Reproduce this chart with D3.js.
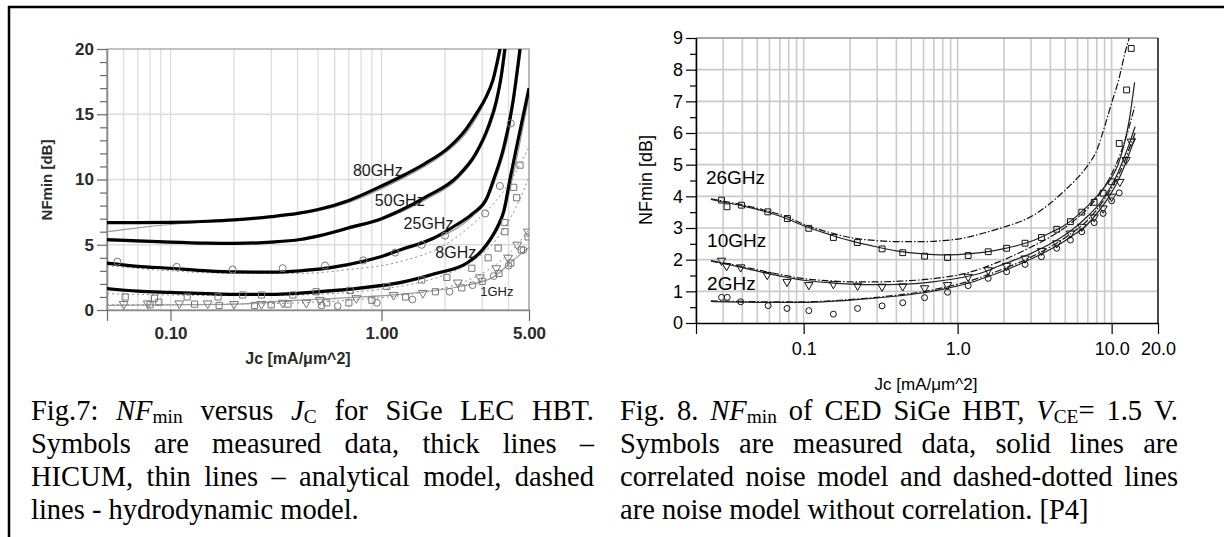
<!DOCTYPE html>
<html>
<head>
<meta charset="utf-8">
<script src="https://cdn.jsdelivr.net/npm/d3@7"></script>
<style>
body { margin: 0; background: #fff; }
svg { display: block; }
</style>
</head>
<body>
<div id="fig"></div>
<script>
// Fig.7 - NFmin vs Jc, SiGe LEC HBT (left panel)
///
const xTicks7 = [0.1, 1, 5];
const xTickLabels7 = ["0.10", "1.00", "5.00"];
const yTicks7 = [0, 5, 10, 15, 20];

// thick lines - HICUM
const hicum80 = [[0.05,6.7],[0.07,6.7],[0.1,6.72],[0.15,6.8],[0.2,6.9],[0.3,7.15],[0.4,7.4],[0.5,7.7],[0.7,8.4],[1.0,9.5],[1.3,10.4],[1.6,11.2],[2.1,12.5],[2.5,13.8],[2.83,15.1],[3.1,16.2],[3.37,17.6],[3.64,20]];
const hicum50 = [[0.05,5.4],[0.07,5.3],[0.1,5.2],[0.15,5.12],[0.2,5.1],[0.3,5.2],[0.41,5.4],[0.51,5.7],[0.7,6.3],[1.0,7.0],[1.22,7.6],[1.64,8.7],[2.28,10.2],[2.8,12],[3.2,14],[3.5,16],[3.7,18],[3.84,20]];
const hicum25 = [[0.05,3.6],[0.07,3.35],[0.1,3.2],[0.15,3.0],[0.2,2.92],[0.3,2.9],[0.41,3.0],[0.6,3.3],[0.8,3.7],[1.0,4.1],[1.22,4.6],[1.76,5.5],[2.2,6.4],[2.71,7.4],[3.16,8.6],[3.4,10],[3.8,12.5],[4.2,16],[4.53,20]];
const hicum8 = [[0.05,1.65],[0.07,1.45],[0.1,1.35],[0.15,1.25],[0.2,1.2],[0.3,1.2],[0.41,1.3],[0.6,1.5],[0.8,1.7],[1.22,2.1],[1.8,2.8],[2.54,3.6],[3.0,4.6],[3.27,5.4],[3.6,6.6],[3.8,7.6],[4.06,10],[4.5,13.5],[5.0,17]];

// thin lines - analytical model
const ana80 = [[0.05,6.0],[0.07,6.3],[0.1,6.55],[0.15,6.75],[0.2,6.88],[0.3,7.12],[0.4,7.35],[0.5,7.6],[0.7,8.25],[1.0,9.3],[1.3,10.2],[1.6,11.0],[2.1,12.3],[2.5,13.5],[2.83,14.8],[3.1,16.0],[3.37,17.4],[3.7,20]];
const ana50 = [[0.05,5.3],[0.1,5.15],[0.2,5.05],[0.41,5.35],[0.7,6.2],[1.0,6.9],[1.64,8.5],[2.28,10.0],[2.8,11.8],[3.2,13.7],[3.5,15.6],[3.9,20]];
const ana25 = [[0.05,3.5],[0.1,3.15],[0.2,2.9],[0.41,2.95],[0.8,3.6],[1.22,4.5],[1.76,5.4],[2.71,7.2],[3.16,8.4],[3.5,10.2],[4.0,13.5],[4.6,20]];
const ana8 = [[0.05,1.5],[0.1,1.3],[0.2,1.15],[0.41,1.25],[0.8,1.6],[1.22,2.0],[1.8,2.7],[2.54,3.5],[3.27,5.2],[3.8,7.3],[4.2,10.3],[5.0,16.4]];
const ana1 = [[0.05,0.35],[0.1,0.4],[0.2,0.45],[0.41,0.75],[0.7,0.95],[1.22,1.2],[2.35,1.8],[3.37,2.5],[4.2,3.8],[5.0,4.8]];

// dashed lines - hydrodynamic model
const hydro25 = [[0.05,3.4],[0.1,3.0],[0.2,2.8],[0.41,2.8],[0.7,3.1],[1.22,3.7],[2.0,5.0],[2.93,7.1],[3.5,8.4],[4.2,10.2],[5.0,12.5]];
const hydro8 = [[0.05,1.25],[0.1,1.15],[0.2,1.1],[0.4,1.15],[0.7,1.35],[1.0,1.6],[1.5,2.1],[2.0,2.7],[2.5,3.4],[3.0,4.3],[3.5,5.4],[4.0,6.8],[4.5,8.4],[5.0,10.2]];
const hydro1 = [[0.05,0.4],[0.1,0.42],[0.2,0.45],[0.4,0.55],[0.7,0.75],[1.0,0.95],[1.5,1.3],[2.0,1.7],[2.5,2.2],[3.0,2.8],[3.5,3.5],[4.0,4.3],[4.5,5.2],[5.0,6.2]];

// measured data
const circ25 = [[0.056,3.7],[0.107,3.3],[0.197,3.1],[0.34,3.2],[0.54,3.4],[0.82,3.8],[1.16,4.4],[1.55,5.0],[2.0,5.7],[3.1,7.4],[3.64,9.5],[4.1,14.3]];
const sq8 = [[0.061,1.0],[0.084,0.9],[0.12,1.0],[0.168,1.0],[0.22,1.15],[0.27,1.15],[0.38,1.15],[0.49,1.4],[0.71,1.5],[1.06,1.8],[1.55,2.3],[2.04,2.5],[2.68,3.2],[3.2,4.0],[3.57,4.75],[3.84,6.0],[3.84,6.7],[4.23,9.4],[4.37,8.6],[4.53,11.1]];
const tri1 = [[0.06,0.45],[0.078,0.5],[0.11,0.5],[0.15,0.5],[0.2,0.45],[0.27,0.45],[0.34,0.55],[0.44,0.55],[0.51,0.77],[0.76,0.9],[1.14,1.15],[1.57,1.3],[2.3,2.1],[2.93,2.5],[3.5,3.2],[3.98,4.0],[4.4,5.0],[4.94,6.0]];
const sq1 = [[0.08,0.4],[0.088,0.6],[0.13,0.45],[0.17,0.35],[0.25,0.35],[0.3,0.4],[0.36,0.45],[0.55,0.55],[0.7,0.55],[0.9,0.75],[1.3,1.0],[1.8,1.4],[2.4,1.7],[3.0,2.2],[3.6,2.8],[4.1,3.6],[4.6,4.6],[4.95,5.6]];
const circ1 = [[0.52,0.35],[0.62,0.3],[0.95,0.55],[1.4,0.8],[2.1,1.4],[2.7,1.9],[3.4,2.6],[4.0,3.4],[4.7,4.6]];

const labels7 = ["80GHz", "50GHz", "25GHz", "8GHz", "1GHz"];
const labelAt7 = [[0.96,10.7], [1.22,8.4], [1.67,6.6], [2.25,4.4], [3.52,1.4]];

// Fig.8 - NFmin of CED SiGe HBT (right panel)
///
const xTicks8 = [0.1, 1, 10, 20];
const xTickLabels8 = ["0.1", "1.0", "10.0", "20.0"];
const yTicks8 = [0, 1, 2, 3, 4, 5, 6, 7, 8, 9];

// solid - correlated noise model
const sol26 = [[0.025,3.9],[0.03,3.82],[0.04,3.7],[0.06,3.48],[0.08,3.27],[0.1,3.07],[0.15,2.78],[0.2,2.6],[0.3,2.4],[0.4,2.28],[0.6,2.18],[0.8,2.15],[1.0,2.16],[1.5,2.24],[2.0,2.35],[3.0,2.58],[4.0,2.85],[5.0,3.1],[6.0,3.4],[7.0,3.7],[8.0,4.0],[9.0,4.3],[10,4.6],[11,5.0],[12,5.6],[13,6.4],[14.1,7.6]];
const sol10 = [[0.025,1.95],[0.03,1.88],[0.04,1.75],[0.06,1.55],[0.08,1.43],[0.1,1.35],[0.15,1.27],[0.2,1.23],[0.3,1.21],[0.42,1.22],[0.69,1.3],[1.13,1.46],[1.5,1.62],[1.85,1.8],[3.0,2.2],[4.0,2.5],[4.97,2.78],[6.0,3.08],[7.0,3.38],[8.2,3.72],[9.0,4.0],[10,4.35],[11,4.75],[12,5.2],[13,5.65],[14.2,6.2]];
const sol2 = [[0.025,0.68],[0.04,0.66],[0.06,0.65],[0.1,0.65],[0.15,0.68],[0.2,0.72],[0.3,0.79],[0.42,0.86],[0.65,0.98],[0.86,1.1],[1.2,1.27],[1.6,1.48],[2.0,1.65],[2.76,1.94],[3.5,2.18],[4.5,2.46],[5.5,2.74],[6.7,3.04],[8.0,3.45],[9.3,3.88],[10.5,4.3],[12,4.9],[13,5.35],[14.2,5.85]];

// dashed-dotted - no correlation
const dd26 = [[0.025,3.92],[0.03,3.85],[0.04,3.73],[0.06,3.52],[0.08,3.33],[0.1,3.12],[0.15,2.85],[0.2,2.7],[0.3,2.6],[0.4,2.57],[0.6,2.57],[0.8,2.6],[1.0,2.65],[1.5,2.85],[2.0,3.03],[3.0,3.36],[4.0,3.78],[5.0,4.2],[6.0,4.58],[7.0,4.98],[8.0,5.45],[9.0,6.2],[10,6.95],[11.1,7.67],[12.2,8.52],[13.0,9.0]];
const dd10 = [[0.025,1.97],[0.03,1.9],[0.04,1.78],[0.06,1.6],[0.08,1.48],[0.1,1.4],[0.15,1.33],[0.2,1.3],[0.3,1.3],[0.42,1.32],[0.69,1.4],[1.13,1.57],[1.85,1.93],[3.0,2.4],[4.0,2.72],[5.0,3.02],[6.0,3.32],[7.0,3.62],[8.0,3.95],[9.0,4.3],[10,4.7],[11,5.15],[12,5.65],[13,6.2],[14.1,6.83]];
const dd2 = [[0.025,0.7],[0.04,0.68],[0.06,0.67],[0.1,0.67],[0.2,0.74],[0.3,0.81],[0.42,0.89],[0.65,1.02],[0.86,1.15],[1.2,1.33],[1.6,1.54],[2.0,1.72],[2.76,2.0],[3.5,2.25],[4.5,2.55],[5.5,2.84],[6.7,3.16],[8.0,3.58],[9.3,4.02],[10.5,4.45],[12,5.05],[13,5.5],[14.2,6.0]];

// measured data
const sq26 = [[0.0293,3.88],[0.0318,3.67],[0.0395,3.72],[0.0585,3.51],[0.0784,3.3],[0.108,2.99],[0.156,2.7],[0.223,2.54],[0.323,2.34],[0.44,2.22],[0.61,2.11],[0.86,2.07],[1.17,2.13],[1.58,2.25],[2.08,2.36],[2.74,2.52],[3.5,2.7],[4.4,2.96],[5.4,3.2],[6.4,3.5],[7.7,3.81],[8.8,4.1],[10.0,4.46],[11.2,5.67],[12.5,7.36],[13.4,8.67]];
const tri10 = [[0.0293,1.97],[0.0316,1.8],[0.039,1.76],[0.058,1.52],[0.078,1.3],[0.108,1.2],[0.156,1.23],[0.224,1.18],[0.323,1.15],[0.44,1.16],[0.61,1.1],[0.86,1.2],[1.17,1.46],[1.58,1.67],[2.08,1.81],[2.74,2.04],[3.5,2.28],[4.4,2.52],[5.4,2.83],[6.4,3.04],[7.7,3.34],[8.8,3.62],[10.0,3.99],[11.3,4.46],[12.4,5.15],[13.4,5.73]];
const circ2 = [[0.0293,0.81],[0.0319,0.81],[0.039,0.67],[0.0588,0.55],[0.078,0.46],[0.108,0.39],[0.156,0.28],[0.224,0.46],[0.323,0.54],[0.44,0.64],[0.61,0.8],[0.86,0.97],[1.17,1.18],[1.58,1.41],[2.08,1.62],[2.74,1.85],[3.5,2.09],[4.4,2.36],[5.4,2.62],[6.4,2.88],[7.7,3.17],[8.8,3.46],[10.0,3.86],[11.2,4.11]];

const labels8 = ["26GHz", "10GHz", "2GHz"];
const labelAt8 = [[0.0232,4.58], [0.0236,2.62], [0.0236,1.26]];

// captions
const caption7 = [
	"Fig.7: <i>NF</i><sub>min</sub> versus <i>J</i><sub>C</sub> for SiGe LEC HBT.",
	"Symbols are measured data, thick lines –",
	"HICUM, thin lines – analytical model, dashed",
	"lines - hydrodynamic model."
];
const caption8 = [
	"Fig. 8. <i>NF</i><sub>min</sub> of CED SiGe HBT, <i>V</i><sub>CE</sub>= 1.5 V.",
	"Symbols are measured data, solid lines are",
	"correlated noise model and dashed-dotted lines",
	"are noise model without correlation. [P4]"
];

const w = 1224, h = 537;
const sans = "Liberation Sans, Arial, sans-serif";
const serif = "Liberation Serif, Times New Roman, serif";

let svg = d3.select("#fig").append("svg")
	.attr("width", w)
	.attr("height", h)
	.attr("viewBox", "0 0 " + w + " " + h);

// page frame (table cell border)
svg.append("line").attr("x1", 9).attr("x2", 9).attr("y1", 6).attr("y2", h)
	.attr("stroke", "#000").attr("stroke-width", 2.5);
svg.append("line").attr("x1", 8).attr("x2", w).attr("y1", 7).attr("y2", 7)
	.attr("stroke", "#000").attr("stroke-width", 2.5);

function symbolPath(type, size) {
	return d3.symbol().type(type).size(size)();
}

function drawPoints(g, data, x, y, type, size, color, flip) {
	g.append("g").selectAll("path")
		.data(data)
		.join("path")
		.attr("d", symbolPath(type, size))
		.attr("transform", function(d) { return "translate(" + x(d[0]) + "," + y(d[1]) + ")" + (flip ? " rotate(180)" : "") })
		.attr("fill", "none")
		.attr("stroke", color)
		.attr("stroke-width", 1);
}

function drawCurve(g, data, x, y, color, width, dash) {
	let line = d3.line().x(function(d) { return x(d[0]) }).y(function(d) { return y(d[1]) }).curve(d3.curveMonotoneX);
	g.append("path")
		.attr("d", line(data))
		.attr("fill", "none")
		.attr("stroke", color)
		.attr("stroke-width", width)
		.attr("stroke-dasharray", dash || null)
		.attr("stroke-linejoin", "round");
}

// ---------- Fig.7 ----------
const x7 = d3.scaleLog().domain([0.05, 5]).range([107, 529]);
const y7 = d3.scaleLinear().domain([0, 20]).range([310, 49]);
let g7 = svg.append("g");

g7.append("clipPath").attr("id", "clip7").append("rect")
	.attr("x", 107).attr("y", 49).attr("width", 422).attr("height", 261);

// grid
g7.append("g").selectAll("line")
	.data(x7.ticks())
	.join("line")
	.attr("x1", function(d) { return x7(d) }).attr("x2", function(d) { return x7(d) })
	.attr("y1", y7(0)).attr("y2", y7(20))
	.attr("stroke", "#dcdcdc").attr("stroke-width", 1.3);
g7.append("g").selectAll("line")
	.data(yTicks7.slice(1, -1))
	.join("line")
	.attr("x1", 107).attr("x2", 529)
	.attr("y1", function(d) { return y7(d) }).attr("y2", function(d) { return y7(d) })
	.attr("stroke", "#dcdcdc").attr("stroke-width", 1.3);

g7.append("rect").attr("x", 107).attr("y", 49).attr("width", 422).attr("height", 261)
	.attr("fill", "none").attr("stroke", "#9a9a9a").attr("stroke-width", 1.2);

// axes
let yMinor7 = d3.range(0, 21).filter(function(d) { return d % 5 });
let ay7m = g7.append("g").attr("transform", "translate(107,0)")
	.call(d3.axisLeft(y7).tickValues(yMinor7).tickSize(7).tickSizeOuter(0).tickFormat(""));
let ay7 = g7.append("g").attr("transform", "translate(107,0)")
	.call(d3.axisLeft(y7).tickValues(yTicks7).tickSize(10).tickSizeOuter(0).tickPadding(3));
let ax7 = g7.append("g").attr("transform", "translate(0,310)")
	.call(d3.axisBottom(x7).tickValues([0.05].concat(xTicks7)).tickSize(11).tickSizeOuter(0).tickPadding(6)
		.tickFormat(function(d) { let i = xTicks7.indexOf(d); return i < 0 ? "" : xTickLabels7[i] }));
[ay7m, ay7, ax7].forEach(function(a) {
	a.select(".domain").attr("stroke", "#8a8a8a").attr("stroke-width", 1.3);
	a.selectAll(".tick line").attr("stroke", "#6a6a6a").attr("stroke-width", 1.2);
	a.selectAll("text").attr("font-family", sans).attr("font-size", 17).attr("font-weight", "bold").attr("fill", "#2a2a2a");
});

let plot7 = g7.append("g").attr("clip-path", "url(#clip7)");

[hydro25, hydro8, hydro1].forEach(function(d) { drawCurve(plot7, d, x7, y7, "#8c8c8c", 1, "2,3") });
[ana80, ana50, ana25, ana8, ana1].forEach(function(d) { drawCurve(plot7, d, x7, y7, "#9a9a9a", 1.2) });
[hicum80, hicum50, hicum25, hicum8].forEach(function(d) { drawCurve(plot7, d, x7, y7, "#000", 3.2) });

drawPoints(plot7, circ25, x7, y7, d3.symbolCircle, 40, "#777");
drawPoints(plot7, circ1, x7, y7, d3.symbolCircle, 36, "#777");
drawPoints(plot7, sq8, x7, y7, d3.symbolSquare, 38, "#777");
drawPoints(plot7, sq1, x7, y7, d3.symbolSquare, 38, "#777");
drawPoints(plot7, tri1, x7, y7, d3.symbolTriangle, 34, "#777", true);

g7.append("g").selectAll("text")
	.data(labels7)
	.join("text")
	.attr("x", function(d, i) { return x7(labelAt7[i][0]) })
	.attr("y", function(d, i) { return y7(labelAt7[i][1]) })
	.attr("text-anchor", "middle").attr("dominant-baseline", "central")
	.attr("font-family", sans).attr("font-size", function(d) { return d == "1GHz" ? 13 : 16 })
	.attr("fill", "#1a1a1a")
	.text(function(d) { return d });

g7.append("text")
	.attr("transform", "translate(52,180) rotate(-90)")
	.attr("text-anchor", "middle")
	.attr("font-family", sans).attr("font-size", 15).attr("font-weight", "bold").attr("fill", "#2a2a2a")
	.text("NFmin [dB]");
g7.append("text")
	.attr("x", 298).attr("y", 364)
	.attr("text-anchor", "middle")
	.attr("font-family", sans).attr("font-size", 16).attr("font-weight", "bold").attr("fill", "#2a2a2a")
	.text("Jc [mA/μm^2]");

// ---------- Fig.8 ----------
const x8 = d3.scaleLog().domain([0.02, 20]).range([696, 1158]);
const y8 = d3.scaleLinear().domain([0, 9]).range([323, 38]);
let g8 = svg.append("g");

g8.append("clipPath").attr("id", "clip8").append("rect")
	.attr("x", 696).attr("y", 38).attr("width", 462).attr("height", 285);

g8.append("g").selectAll("line")
	.data(x8.ticks())
	.join("line")
	.attr("x1", function(d) { return x8(d) }).attr("x2", function(d) { return x8(d) })
	.attr("y1", y8(0)).attr("y2", y8(9))
	.attr("stroke", "#cacaca").attr("stroke-width", 1.6);
g8.append("g").selectAll("line")
	.data(yTicks8.slice(1, -1))
	.join("line")
	.attr("x1", 696).attr("x2", 1158)
	.attr("y1", function(d) { return y8(d) }).attr("y2", function(d) { return y8(d) })
	.attr("stroke", "#cacaca").attr("stroke-width", 1.6);

g8.append("line").attr("x1", 696).attr("x2", 1158).attr("y1", 38).attr("y2", 38)
	.attr("stroke", "#8a8a8a").attr("stroke-width", 1.3);
g8.append("line").attr("x1", 1158).attr("x2", 1158).attr("y1", 38).attr("y2", 323)
	.attr("stroke", "#000").attr("stroke-width", 1.3);

let yMinor8 = d3.range(0.5, 9, 1);
let ay8m = g8.append("g").attr("transform", "translate(696,0)")
	.call(d3.axisLeft(y8).tickValues(yMinor8).tickSize(6).tickSizeOuter(0).tickFormat(""));
let ay8 = g8.append("g").attr("transform", "translate(696,0)")
	.call(d3.axisLeft(y8).tickValues(yTicks8).tickSize(10).tickSizeOuter(0).tickPadding(3));
let ax8 = g8.append("g").attr("transform", "translate(0,323)")
	.call(d3.axisBottom(x8).tickValues([0.02].concat(xTicks8)).tickSize(11).tickSizeOuter(0).tickPadding(8)
		.tickFormat(function(d) { let i = xTicks8.indexOf(d); return i < 0 ? "" : xTickLabels8[i] }));
[ay8m, ay8, ax8].forEach(function(a) {
	a.select(".domain").attr("stroke", "#000").attr("stroke-width", 1.3);
	a.selectAll(".tick line").attr("stroke", "#000").attr("stroke-width", 1.2);
	a.selectAll("text").attr("font-family", sans).attr("font-size", 18).attr("fill", "#000");
});

let plot8 = g8.append("g").attr("clip-path", "url(#clip8)");

[dd26, dd10, dd2].forEach(function(d) { drawCurve(plot8, d, x8, y8, "#111", 1.2, "7,2,1.5,2") });
[sol26, sol10, sol2].forEach(function(d) { drawCurve(plot8, d, x8, y8, "#222", 1.2) });

drawPoints(plot8, sq26, x8, y8, d3.symbolSquare, 34, "#111");
drawPoints(plot8, tri10, x8, y8, d3.symbolTriangle, 30, "#111", true);
drawPoints(plot8, circ2, x8, y8, d3.symbolCircle, 28, "#111");

g8.append("g").selectAll("text")
	.data(labels8)
	.join("text")
	.attr("x", function(d, i) { return x8(labelAt8[i][0]) })
	.attr("y", function(d, i) { return y8(labelAt8[i][1]) })
	.attr("dominant-baseline", "central")
	.attr("font-family", sans).attr("font-size", 19).attr("fill", "#000")
	.text(function(d) { return d });

g8.append("text")
	.attr("transform", "translate(652,180) rotate(-90)")
	.attr("text-anchor", "middle")
	.attr("font-family", sans).attr("font-size", 18).attr("fill", "#000")
	.text("NFmin [dB]");
g8.append("text")
	.attr("x", 926).attr("y", 390)
	.attr("text-anchor", "middle")
	.attr("font-family", sans).attr("font-size", 17).attr("fill", "#000")
	.text("Jc [mA/μm^2]");

// ---------- captions (justified) ----------
const capSize = 28.5, capLead = 33, subShift = 3;

function drawCaption(lines, x0, x1, y0) {
	lines.forEach(function(line, i) {
		let words = line.split(" ");
		let nodes = words.map(function(word) {
			let t = svg.append("text").attr("y", y0 + i * capLead)
				.attr("font-family", serif).attr("font-size", capSize).attr("fill", "#000");
			let shift = 0;
			word.split(/(<i>.*?<\/i>|<sub>.*?<\/sub>)/).filter(function(s) { return s.length }).forEach(function(s) {
				let ts = t.append("tspan");
				if (s.indexOf("<sub>") == 0) {
					ts.text(s.slice(5, -6)).attr("font-size", capSize * 0.68).attr("dy", subShift);
					shift = subShift;
					return;
				}
				if (s.indexOf("<i>") == 0) ts.text(s.slice(3, -4)).attr("font-style", "italic");
				else ts.text(s);
				if (shift) { ts.attr("dy", -shift); shift = 0; }
			});
			return t;
		});
		let widths = nodes.map(function(n) { return n.node().getComputedTextLength() });
		let last = i == lines.length - 1;
		let gap = last ? capSize * 0.25 : (x1 - x0 - d3.sum(widths)) / (words.length - 1);
		let xx = x0;
		nodes.forEach(function(n, k) { n.attr("x", xx); xx += widths[k] + gap });
	});
}

drawCaption(caption7, 31, 594, 420);
drawCaption(caption8, 620, 1178, 420);
</script>
</body>
</html>
